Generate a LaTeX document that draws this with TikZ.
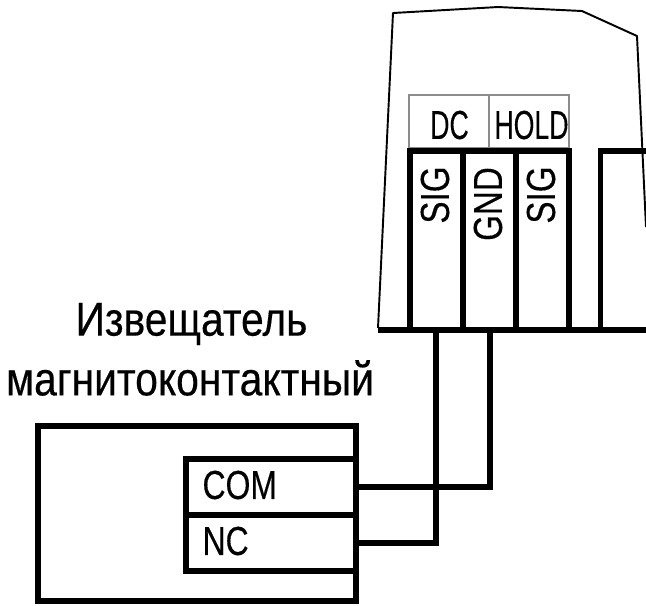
\documentclass[tikz,border=0pt]{standalone}
\usepackage{fontspec}
\setmainfont{Liberation Sans}
\newfontfamily\labelfont[RawFeature={embolden=0.35}]{Liberation Sans}
\tikzset{
  wire/.style={black,line width=1.7pt,line cap=rect},
  housing/.style={black,line width=0.55pt,line join=round},
  legendbox/.style={black!45,line width=0.3pt},
  termtext/.style={inner sep=0pt,font=\labelfont\fontsize{11.5}{13}\selectfont,xscale=0.79},
  legendtext/.style={inner sep=0pt,font=\labelfont\fontsize{11.5}{13}\selectfont,xscale=0.66},
  vtermtext/.style={inner sep=0pt,font=\labelfont\fontsize{11.5}{13}\selectfont,rotate=90,xscale=0.82},
  titletext/.style={inner sep=0pt,font=\labelfont\fontsize{13.5}{16}\selectfont,xscale=0.86}
}
\begin{document}
\begin{tikzpicture}[scale=0.1]
\useasboundingbox (0,0) rectangle (64.6,-60.5);
\coordinate (comwire) at (35.7,-48.7);
\coordinate (ncwire) at (35.7,-54.3);
\coordinate (sigdrop) at (43.6,-33);
\coordinate (gnddrop) at (49,-33);
% device housing
\draw [housing] (37.8,-32.8) -- (39.3,-1.3) -- (49.8,-0.7) -- (58.2,-1.1) -- (63.7,-3.6) -- (64.6,-22.7);
\draw [legendbox] (40.9,-14.8) rectangle (56.9,-9.5);
\draw [legendbox] (48.9,-14.8) -- (48.9,-9.5);
\node (dc) [legendtext] at (44.95,-12.5) {DC};
\node (hold) [legendtext] at (53.15,-12.5) {HOLD};
% terminals
\draw [wire] (38.1,-33) -- (64.6,-33);
\draw [wire] (41,-33) -- (41,-15.1) -- (56.9,-15.1) -- (56.9,-33);
\draw [wire] (46.3,-15.1) -- (46.3,-33);
\draw [wire] (51.6,-15.1) -- (51.6,-33);
\draw [wire] (60.05,-33) -- (60.05,-15.1) -- (64.6,-15.1);
\node (siga) [vtermtext] at (43.5,-19.5) {SIG};
\node (gnd) [vtermtext] at (48.8,-20.4) {GND};
\node (sigb) [vtermtext] at (54.1,-19.5) {SIG};
% sensor
\node (sensorname) [titletext] at (19.15,-32.4) {Извещатель};
\node (sensortype) [titletext] at (19,-37.8) {магнитоконтактный};
\draw [wire] (3.8,-42.6) rectangle (35.6,-60.1);
\draw [wire] (35.6,-45.9) -- (18.6,-45.9) -- (18.6,-57.1) -- (35.6,-57.1);
\draw [wire] (18.6,-51.5) -- (35.6,-51.5);
\node (com) [termtext,anchor=west] at (20.2,-48.5) {COM};
\node (nc) [termtext,anchor=west] at (20.2,-54.1) {NC};
% wires to the device
\draw [wire] (comwire) -- (gnddrop |- comwire) -- (gnddrop);
\draw [wire] (ncwire) -- (sigdrop |- ncwire) -- (sigdrop);
\end{tikzpicture}
\end{document}
